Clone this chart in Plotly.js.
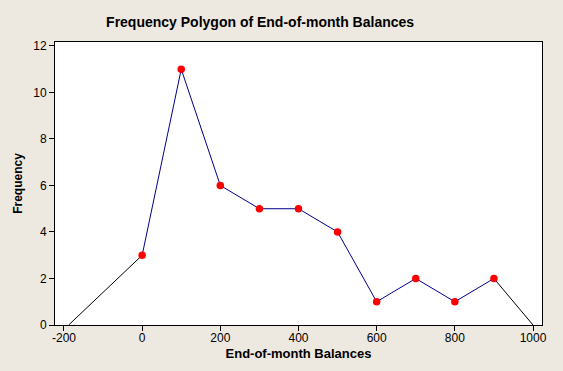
<!DOCTYPE html>
<html>
<head>
<meta charset="utf-8">
<script src="https://cdn.plot.ly/plotly-3.0.1.min.js"></script>
<style>html,body{margin:0;padding:0;background:#EDE9E0;}</style>
</head>
<body>
<div id="chart" style="width:563px;height:371px;"></div>
<script>
const balances = [0, 100, 200, 300, 400, 500, 600, 700, 800, 900];
const frequency = [3, 11, 6, 5, 5, 4, 1, 2, 1, 2];
const leftEnd = [-188, 0];
const leftEndFreq = [0, 3];
const rightEnd = [900, 1000];
const rightEndFreq = [2, 0];
const xTicks = [-200, 0, 200, 400, 600, 800, 1000];
const yTicks = [0, 2, 4, 6, 8, 10, 12];

const font = "Liberation Sans, Arial, sans-serif";
const data = [
  {x: leftEnd, y: leftEndFreq, mode: 'lines', line: {color: '#000000', width: 1}, hoverinfo: 'skip'},
  {x: rightEnd, y: rightEndFreq, mode: 'lines', line: {color: '#000000', width: 1}, hoverinfo: 'skip'},
  {x: balances, y: frequency, mode: 'lines+markers', line: {color: '#00008B', width: 1},
   marker: {color: '#FF0000', size: 7.5}}
];
const axisCommon = {
  showgrid: false, zeroline: false, showline: true, linecolor: '#000', linewidth: 1, mirror: true,
  ticks: 'outside', ticklen: 5, tickcolor: '#000', tickfont: {family: font, size: 12, color: '#000'}
};
const layout = {
  width: 563, height: 371,
  paper_bgcolor: '#EDE9E0', plot_bgcolor: '#FFFFFF',
  margin: {l: 55, r: 21, t: 42, b: 46},
  showlegend: false,
  title: {text: 'Frequency Polygon of End-of-month Balances', x: 0.462, xanchor: 'center', y: 0.94, yanchor: 'middle',
          font: {family: font, size: 14, color: '#000', weight: 'bold'}},
  xaxis: Object.assign({}, axisCommon, {range: [-223, 1023], tickvals: xTicks, ticktext: xTicks.map(String),
     ticklabelstandoff: -3,
     title: {text: '<b>End-of-month Balances</b>', font: {family: font, size: 13, color: '#000'}, standoff: 4}}),
  yaxis: Object.assign({}, axisCommon, {range: [0, 12.17], tickvals: yTicks, ticktext: yTicks.map(String),
     title: {text: '<b>Frequency</b>', font: {family: font, size: 12, color: '#000'}, standoff: 8}})
};
Plotly.newPlot('chart', data, layout, {displayModeBar: false, staticPlot: true});
</script>
</body>
</html>
